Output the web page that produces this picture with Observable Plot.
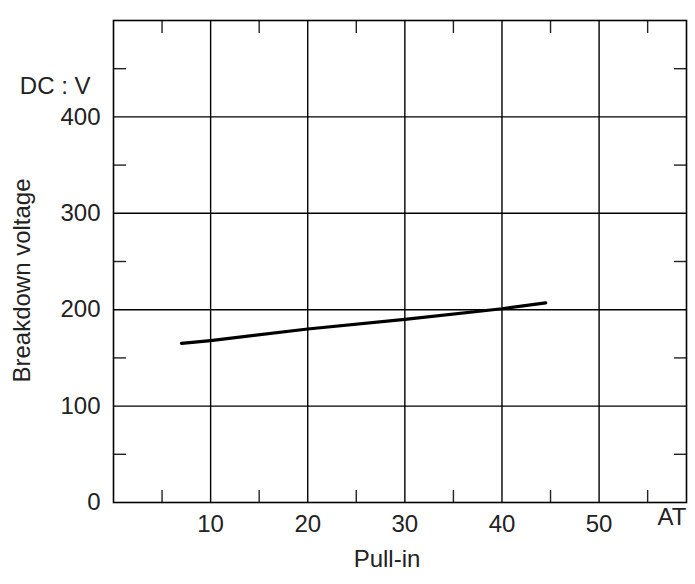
<!DOCTYPE html>
<html>
<head>
<meta charset="utf-8">
<script src="https://cdn.jsdelivr.net/npm/d3@7"></script>
<script src="https://cdn.jsdelivr.net/npm/@observablehq/plot@0.6"></script>
<style>
  html, body { margin: 0; padding: 0; background: #fff; }
  #chart svg { display: block; }
</style>
</head>
<body>
<div id="chart"></div>
<script>
// Pull-in (AT) vs breakdown voltage (DC V)
const pullIn =    [7,   10,  20,  30,  40,  44.5];
const breakdown = [165, 168, 180, 190, 201, 207];

const xMajorTicks = [10, 20, 30, 40, 50];
const xMinorTicks = [5, 15, 25, 35, 45, 55];
const yMajorTicks = [0, 100, 200, 300, 400];
const yGridTicks  = [100, 200, 300, 400];
const yMinorTicks = [50, 150, 250, 350, 450];
const xDomain = [0, 59];
const yDomain = [0, 500];

const xUnit = "AT";
const yUnit = "DC : V";
const xTitle = "Pull-in";
const yTitle = "Breakdown voltage";
const unitLabelY = 432;

const points = pullIn.map((x, i) => ({x, y: breakdown[i]}));

const font = '"Liberation Sans", Arial, sans-serif';
const fs = 24;

const chart = Plot.plot({
  width: 695,
  height: 584,
  marginLeft: 113,
  marginRight: 9,
  marginTop: 20,
  marginBottom: 82,
  style: {fontFamily: font, fontSize: fs + "px", color: "#222", background: "#fff"},
  x: {domain: xDomain},
  y: {domain: yDomain},
  marks: [
    Plot.gridX(xMajorTicks, {stroke: "#000", strokeOpacity: 1, strokeWidth: 1.4}),
    Plot.gridY(yGridTicks, {stroke: "#000", strokeOpacity: 1, strokeWidth: 1.4}),
    Plot.axisX({ticks: xMajorTicks, tickSize: 0, tickPadding: 12, fontSize: fs, label: null}),
    Plot.axisY({ticks: yMajorTicks, tickSize: 0, tickPadding: 13, fontSize: fs, label: null}),
    Plot.axisX({anchor: "bottom", ticks: xMinorTicks, tickSize: -12, text: null, label: null, strokeWidth: 1.4}),
    Plot.axisX({anchor: "top", ticks: xMinorTicks, tickSize: -12, text: null, label: null, strokeWidth: 1.4}),
    Plot.axisY({anchor: "left", ticks: yMinorTicks, tickSize: -13, text: null, label: null, strokeWidth: 1.4}),
    Plot.axisY({anchor: "right", ticks: yMinorTicks, tickSize: -13, text: null, label: null, strokeWidth: 1.4}),
    Plot.frame({stroke: "#000", strokeWidth: 1.6}),
    Plot.line(points, {x: "x", y: "y", stroke: "#000", strokeWidth: 3.2}),
    Plot.text([xUnit], {frameAnchor: "bottom-right", textAnchor: "end", dy: 22, fontSize: fs, fill: "#222"}),
    Plot.text([xTitle], {frameAnchor: "bottom", textAnchor: "middle", dx: -13, dy: 64, fontSize: fs, fill: "#222"}),
    Plot.text([yTitle], {frameAnchor: "left", textAnchor: "middle", rotate: -90, dx: -91, dy: 19, fontSize: fs, fill: "#222"}),
    Plot.text([yUnit], {x: () => 0, y: () => unitLabelY, textAnchor: "end", dx: -23, fontSize: fs, fill: "#222"})
  ]
});
document.getElementById("chart").appendChild(chart);
</script>
</body>
</html>
